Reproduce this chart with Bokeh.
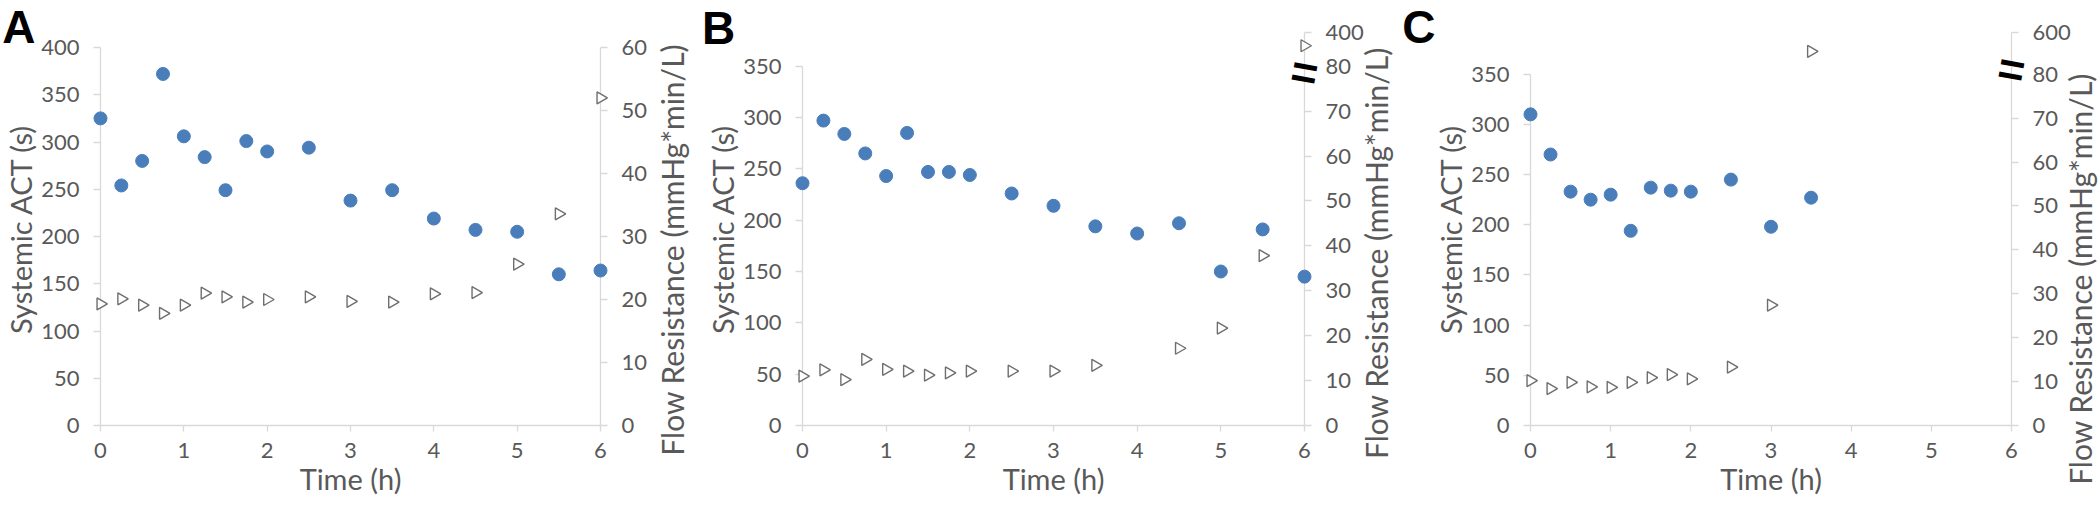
import math
from bokeh.plotting import figure
from bokeh.models import (Range1d, LinearAxis, FixedTicker, ColumnDataSource,
                          CustomJSTransform)
from bokeh.core.properties import value
from bokeh.layouts import row
from bokeh.transform import transform
from bokeh.embed import file_html
from bokeh.resources import INLINE

# ---------------- data ----------------
x_ticks = [0, 1, 2, 3, 4, 5, 6]

# Panel A
a_time = [0, 0.25, 0.5, 0.75, 1, 1.25, 1.5, 1.75, 2, 2.5, 3, 3.5, 4, 4.5, 5, 5.5, 6]
a_act = [325, 254, 280, 372, 306, 284, 249, 301, 290, 294, 238, 249, 219, 207, 205, 160, 164]
a_res_time = [0, 0.25, 0.5, 0.75, 1, 1.25, 1.5, 1.75, 2, 2.5, 3, 3.5, 4, 4.5, 5, 5.5, 6]
a_res = [19.3, 20.1, 19.1, 17.8, 19.1, 21.0, 20.4, 19.6, 20.0, 20.4, 19.7, 19.6, 20.9, 21.1, 25.6, 33.6, 52.0]
a_left_ticks = [0, 50, 100, 150, 200, 250, 300, 350, 400]
a_right_ticks = [0, 10, 20, 30, 40, 50, 60]

# Panel B
b_time = [0, 0.25, 0.5, 0.75, 1, 1.25, 1.5, 1.75, 2, 2.5, 3, 3.5, 4, 4.5, 5, 5.5, 6]
b_act = [236, 297, 284, 265, 243, 285, 247, 247, 244, 226, 214, 194, 187, 197, 150, 191, 145]
b_res_time = [0, 0.25, 0.5, 0.75, 1, 1.25, 1.5, 1.75, 2, 2.5, 3, 3.5, 4.5, 5, 5.5, 6]
b_res = [11.0, 12.4, 10.2, 14.7, 12.5, 12.1, 11.2, 11.7, 12.1, 12.1, 12.1, 13.4, 17.2, 21.7, 37.8, 274]
b_left_ticks = [0, 50, 100, 150, 200, 250, 300, 350]
b_right_ticks = [0, 10, 20, 30, 40, 50, 60, 70, 80]
b_break_top = 400

# Panel C
c_time = [0, 0.25, 0.5, 0.75, 1, 1.25, 1.5, 1.75, 2, 2.5, 3, 3.5]
c_act = [310, 270, 233, 225, 230, 194, 237, 234, 233, 245, 198, 227]
c_res_time = [0, 0.25, 0.5, 0.75, 1, 1.25, 1.5, 1.75, 2, 2.5, 3, 3.5]
c_res = [10.2, 8.4, 9.8, 8.8, 8.7, 9.8, 10.9, 11.6, 10.6, 13.3, 27.4, 364]
c_left_ticks = [0, 50, 100, 150, 200, 250, 300, 350]
c_right_ticks = [0, 10, 20, 30, 40, 50, 60, 70, 80]
c_break_top = 600

# ---------------- style ----------------
FONT = "Lato"
AXC = "#d9d9d9"
TXT = "#595959"
BLUE = "#4a7ebb"
TRI = "#6f6f6f"
H = 504
BT = 32      # common top border
BB = 79      # common bottom border
FRAME_H = H - BT - BB


def style_axis(ax, label=""):
    ax.axis_label = label
    ax.axis_label_text_font = FONT
    ax.axis_label_text_font_size = "29px"
    ax.axis_label_text_font_style = "normal"
    ax.axis_label_text_color = TXT
    ax.major_label_text_font = FONT
    ax.major_label_text_font_size = "22px"
    ax.major_label_text_color = TXT
    ax.axis_line_color = AXC
    ax.axis_line_width = 1.3
    ax.major_tick_line_color = AXC
    ax.major_tick_line_width = 1.3
    ax.major_tick_out = 7
    ax.major_tick_in = 0
    ax.minor_tick_line_color = None
    ax.major_label_standoff = 14
    ax.axis_label_standoff = 0


def make_panel(letter, W, bl, br, left_end, left_bounds, left_ticks, right_end, right_bounds,
               right_ticks, overrides, t_act, act, t_res, res, brk=None, brk_dy=0,
               letter_xy=(0, 0), rtitle_xy=(0, 0)):
    p = figure(width=W, height=H, x_range=Range1d(0, 6), y_range=Range1d(0, left_end),
               output_backend="svg", toolbar_location=None,
               min_border_left=bl, min_border_right=br, min_border_top=BT, min_border_bottom=BB)
    p.extra_y_ranges = {"fr": Range1d(0, right_end)}
    p.grid.visible = False
    p.outline_line_color = None

    xa = p.xaxis[0]
    style_axis(xa, "Time (h)")
    xa.ticker = FixedTicker(ticks=x_ticks)
    xa.major_tick_out = 6
    xa.major_label_standoff = 11
    xa.axis_label_standoff = 0

    ya = p.yaxis[0]
    style_axis(ya, "Systemic ACT (s)")
    ya.ticker = FixedTicker(ticks=left_ticks)
    ya.bounds = left_bounds

    ra = LinearAxis(y_range_name="fr", ticker=FixedTicker(ticks=right_ticks))
    style_axis(ra, "")
    ra.bounds = right_bounds
    if overrides:
        ra.major_label_overrides = overrides
    p.add_layout(ra, "right")

    src_r = ColumnDataSource(dict(t=t_res, res=res))
    if brk is not None:
        lo, hi, top = brk
        tr = CustomJSTransform(args=dict(lo=lo, hi=hi, top=top), v_func="""
            const out = new Array(xs.length);
            for (let i = 0; i < xs.length; i++) {
                const v = xs[i];
                out[i] = v <= lo ? v : lo + (v - lo) / (hi - lo) * (top - lo);
            }
            return out;
        """)
        ycol = transform("res", tr)
    else:
        ycol = "res"
    p.scatter(x="t", y=ycol, source=src_r, y_range_name="fr", marker="triangle",
              angle=-math.pi / 2, size=12, fill_color="white", line_color=TRI,
              line_width=1.4, level="overlay")

    src_a = ColumnDataSource(dict(t=t_act, act=act))
    p.scatter(x="t", y="act", source=src_a, marker="circle", size=13,
              fill_color=BLUE, line_color=BLUE, level="overlay")

    # panel letter
    p.text(x=[letter_xy[0]], y=[letter_xy[1]], text=[letter],
           text_font=value("Liberation Sans"), text_font_style="bold",
           text_font_size="46px", text_color="black",
           text_align="left", text_baseline="alphabetic", level="overlay")
    # right-axis title, reading bottom to top
    p.text(x=[rtitle_xy[0]], y=[rtitle_xy[1]], text=["Flow Resistance (mmHg*min/L)"],
           text_font=value(FONT), text_font_size="30px", text_color=TXT,
           angle=math.pi / 2, text_align="center", text_baseline="middle",
           level="overlay")
    # axis-break mark
    if brk is not None:
        p.text(x=[6], y=[brk[0]], y_range_name="fr", text=["="],
               text_font=value("Liberation Sans"), text_font_style="bold",
               text_font_size="46px", text_color="black",
               text_align="center", text_baseline="middle", angle=-0.18,
               y_offset=brk_dy, level="overlay")
    return p


# Panel A: 0..400 occupies 378 px of the 393 px frame
a_left_end = 400 * FRAME_H / 378
pA = make_panel("A", 700, 99, 100, a_left_end, (0, 400), a_left_ticks,
                a_left_end * 60 / 400, (0, 60), a_right_ticks, None,
                a_time, a_act, a_res_time, a_res,
                letter_xy=(-1.18, 422), rtitle_xy=(6.862, 186))

b_top = 87.5
pB = make_panel("B", 700, 102, 96, 350 / 80 * b_top, (0, 350), b_left_ticks,
                b_top, (0, b_top), b_right_ticks + [b_top], {b_top: str(b_break_top)},
                b_time, b_act, b_res_time, b_res, brk=(80, b_break_top, b_top), brk_dy=6,
                letter_xy=(-1.20, 387), rtitle_xy=(6.86, 168))

c_top = 89.5
pC = make_panel("C", 700, 130, 89, 350 / 80 * c_top, (0, 350), c_left_ticks,
                c_top, (0, c_top), c_right_ticks + [c_top], {c_top: str(c_break_top)},
                c_time, c_act, c_res_time, c_res, brk=(80, c_break_top, c_top), brk_dy=-5,
                letter_xy=(-1.60, 397), rtitle_xy=(6.85, 146))

layout = row(pA, pB, pC)
open("out.html", "w").write(file_html(layout, INLINE))
